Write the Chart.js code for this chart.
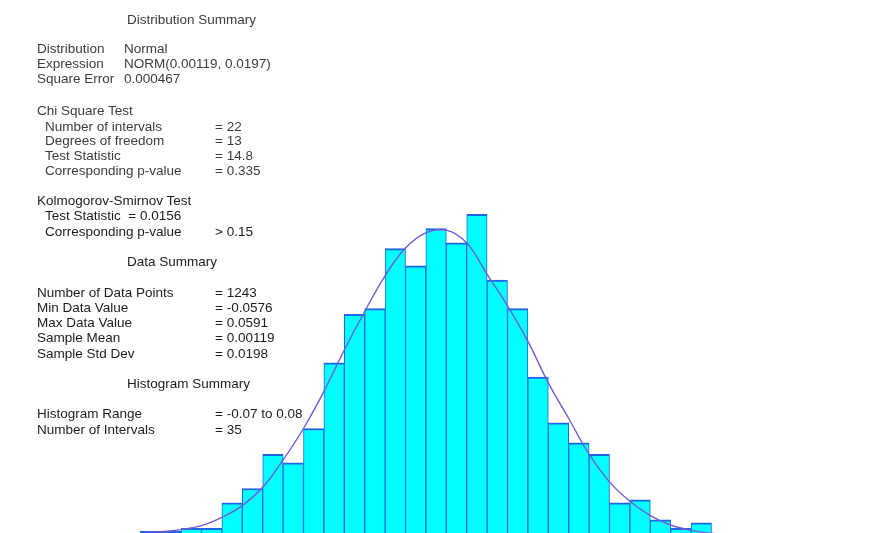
<!DOCTYPE html>
<html>
<head>
<meta charset="utf-8">
<script src="https://cdn.jsdelivr.net/npm/chart.js@4/dist/chart.umd.min.js"></script>
<style>
  html, body { margin: 0; padding: 0; background: #ffffff; }
  #wrap { position: relative; width: 887px; height: 533px; overflow: hidden; background: #ffffff; }
  #hist { position: absolute; left: 0; top: 0; }
  .t { position: absolute; white-space: pre; font-family: "Liberation Sans", Arial, sans-serif;
       font-size: 13.5px; line-height: 15px; color: #1c1c1c; }
  .soft { color: #3c3c3c; filter: blur(0.5px); }
</style>
</head>
<body>
<div id="wrap">
  <canvas id="hist" width="887" height="533"></canvas>
</div>
<script>
// Histogram definition: range and number of intervals
const histRange = [-0.07, 0.08];
const intervalCount = 35;

// Observations per interval, left to right
const binCounts = [0, 0, 2, 2, 3, 3, 12, 17, 29, 26, 38, 61, 78, 80, 101, 95, 108, 103, 113, 90,
                   80, 56, 40, 33, 29, 12, 13, 6, 3, 5, 1, 0, 0, 0, 0];

// Fitted normal curve height at each interval boundary (36 boundaries)
const curveHeights = [0.3, 0.6, 1.1, 1.8, 2.6, 4.0, 6.9, 11.0, 17.4, 27.0, 38.0, 51.0, 65.5, 79.0,
                      91.5, 101.2, 106.5, 107.5, 103.0, 92.0, 81.0, 68.5, 54.0, 41.5, 29.0, 19.3,
                      12.5, 7.5, 4.2, 2.3, 1.3, 0.8, 0.4, 0.2, 0.1, 0.05];

// Summary panel text
const distTitle = "Distribution Summary";
const distRows = [["Distribution", "Normal"], ["Expression", "NORM(0.00119, 0.0197)"], ["Square Error", "0.000467"]];
const chiTitle = "Chi Square Test";
const chiRows = [["Number of intervals", "= 22"], ["Degrees of freedom", "= 13"], ["Test Statistic", "= 14.8"], ["Corresponding p-value", "= 0.335"]];
const ksTitle = "Kolmogorov-Smirnov Test";
const ksRows = [["Test Statistic  = 0.0156", ""], ["Corresponding p-value", "> 0.15"]];
const dataTitle = "Data Summary";
const dataRows = [["Number of Data Points", "= 1243"], ["Min Data Value", "= -0.0576"], ["Max Data Value", "= 0.0591"], ["Sample Mean", "= 0.00119"], ["Sample Std Dev", "= 0.0198"]];
const histTitle = "Histogram Summary";
const histRows = [["Histogram Range", "= -0.07 to 0.08"], ["Number of Intervals", "= 35"]];

// Interval labels and boundary positions derived from the histogram definition
const step = (histRange[1] - histRange[0]) / intervalCount;
const binLabels = binCounts.map((_, i) => (histRange[0] + (i + 0.5) * step).toFixed(4));
const curvePoints = curveHeights.map((h, i) => ({ x: histRange[0] + i * step, y: h }));

// ---- text panel ----
const wrap = document.getElementById('wrap');
function put(text, x, cy, cls) {
  const d = document.createElement('div');
  d.className = 't' + (cls ? ' ' + cls : '');
  d.textContent = text;
  d.style.left = x + 'px';
  d.style.top = (cy - 7.5) + 'px';
  wrap.appendChild(d);
}
function rows(list, labelX, valueX, startY, gap, cls) {
  list.forEach((r, i) => {
    put(r[0], labelX, startY + i * gap, cls);
    if (r[1]) put(r[1], valueX, startY + i * gap, cls);
  });
}
put(distTitle, 127, 19, 'soft');
rows(distRows, 37, 124, 48, 15, 'soft');
put(chiTitle, 37, 110, 'soft');
rows(chiRows, 45, 215, 126, 14.8, 'soft');

put(ksTitle, 37, 200);
rows(ksRows, 45, 215, 215, 16);
put(dataTitle, 127, 261);
rows(dataRows, 37, 215, 292, 15.25);
put(histTitle, 127, 383);
rows(histRows, 37, 215, 413, 16);

// ---- chart ----
new Chart(document.getElementById('hist').getContext('2d'), {
  data: {
    labels: binLabels,
    datasets: [
      {
        type: 'line',
        data: curvePoints,
        xAxisID: 'xc',
        yAxisID: 'y',
        borderColor: '#6d5cd6',
        borderWidth: 1.4,
        pointRadius: 0,
        tension: 0.4,
        fill: false,
        order: 0
      },
      {
        type: 'bar',
        data: binCounts,
        xAxisID: 'x',
        yAxisID: 'y',
        backgroundColor: '#00ffff',
        borderColor: '#1f66e3',
        borderWidth: { top: 2, left: 1, right: 1, bottom: 0 },
        grouped: false,
        categoryPercentage: 1,
        barPercentage: 1,
        order: 1
      }
    ]
  },
  options: {
    responsive: false,
    animation: false,
    devicePixelRatio: 1,
    layout: { padding: { left: 99.5, right: 73.5, top: 0, bottom: 0 } },
    plugins: { legend: { display: false }, tooltip: { enabled: false } },
    scales: {
      x: { type: 'category', display: false, offset: true },
      xc: { type: 'linear', display: false, min: histRange[0], max: histRange[1] },
      y: { display: false, min: 1.4, max: 188.1 }
    }
  }
});
</script>
</body>
</html>
